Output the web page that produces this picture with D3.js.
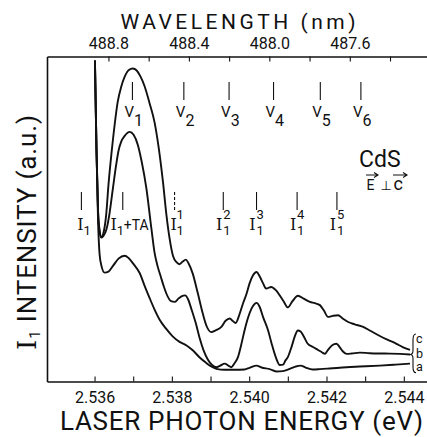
<!DOCTYPE html>
<html>
<head>
<meta charset="utf-8">
<script src="https://cdn.jsdelivr.net/npm/d3@7"></script>
<style>
  body { margin: 0; background: #fff; }
  svg { display: block; }
  text { font-family: Roboto, "DejaVu Sans", sans-serif; fill: #111; }
  .serif { font-family: "DejaVu Serif", serif; }
</style>
</head>
<body>
<svg id="chart" width="427" height="437"></svg>
<script>
//
// Data
//

// spectrum c (top curve)
var energyC = [2.53601, 2.53605, 2.53609, 2.53613, 2.53618, 2.53623, 2.53630, 2.53636, 2.53644, 2.53652,
  2.53660, 2.53669, 2.53678, 2.53688, 2.53699, 2.53709, 2.53719, 2.53729, 2.53742, 2.53755,
  2.53766, 2.53777, 2.53786, 2.53794, 2.53803, 2.53812, 2.53820, 2.53828, 2.53836, 2.53843,
  2.53854, 2.53867, 2.53880, 2.53890, 2.53902, 2.53913, 2.53928, 2.53939, 2.53950, 2.53957,
  2.53965, 2.53975, 2.53984, 2.53993, 2.54001, 2.54010, 2.54019, 2.54027, 2.54036, 2.54044,
  2.54057, 2.54069, 2.54079, 2.54089, 2.54100, 2.54112, 2.54126, 2.54141, 2.54157, 2.54170,
  2.54183, 2.54193, 2.54204, 2.54216, 2.54230, 2.54242, 2.54256, 2.54273, 2.54295, 2.54312,
  2.54338, 2.54359, 2.54381, 2.54397, 2.54416]
var intensityC = [98.8, 71.3, 52.8, 46.6, 44.4, 45.7, 51.2, 60.5, 70.4, 79.0,
  86.1, 90.7, 93.8, 95.8, 96.3, 95.7, 93.8, 91.0, 85.8, 79.9,
  71.9, 61.4, 51.2, 44.1, 38.6, 36.7, 36.1, 36.9, 37.5, 36.4,
  33.2, 27.2, 20.9, 17.0, 15.2, 15.7, 16.8, 18.7, 19.4, 18.7,
  18.0, 20.7, 24.0, 26.9, 30.2, 32.7, 33.7, 32.4, 30.2, 28.6,
  29.1, 28.1, 26.5, 24.7, 22.8, 24.7, 26.4, 25.5, 24.5, 24.1,
  23.5, 21.9, 19.9, 20.2, 20.4, 19.4, 18.3, 17.6, 16.8, 15.7,
  14.0, 12.8, 11.6, 10.6, 9.7]

// spectrum b (middle curve)
var energyB = [2.53601, 2.53605, 2.53609, 2.53613, 2.53618, 2.53623, 2.53631, 2.53639, 2.53647, 2.53656,
  2.53662, 2.53669, 2.53678, 2.53691, 2.53701, 2.53712, 2.53722, 2.53734, 2.53747, 2.53755,
  2.53763, 2.53771, 2.53779, 2.53786, 2.53798, 2.53807, 2.53817, 2.53825, 2.53834, 2.53843,
  2.53850, 2.53862, 2.53872, 2.53882, 2.53893, 2.53904, 2.53915, 2.53924, 2.53937, 2.53946,
  2.53954, 2.53962, 2.53971, 2.53979, 2.53988, 2.53997, 2.54006, 2.54012, 2.54019, 2.54027,
  2.54036, 2.54049, 2.54058, 2.54070, 2.54079, 2.54088, 2.54094, 2.54100, 2.54110, 2.54118,
  2.54126, 2.54133, 2.54141, 2.54151, 2.54165, 2.54178, 2.54188, 2.54196, 2.54203, 2.54214,
  2.54226, 2.54234, 2.54242, 2.54252, 2.54265, 2.54286, 2.54312, 2.54351, 2.54390, 2.54416]
var intensityB = [98.8, 71.3, 52.2, 46.0, 44.3, 44.8, 46.9, 51.9, 59.0, 66.7,
  71.0, 73.8, 75.6, 76.8, 75.9, 72.8, 67.6, 59.5, 47.1, 39.8,
  35.5, 32.4, 29.3, 27.0, 24.7, 24.5, 25.5, 26.2, 26.5, 25.0,
  22.5, 17.9, 13.3, 9.6, 6.8, 5.1, 4.4, 4.8, 5.5, 4.9,
  4.4, 5.6, 7.5, 11.1, 15.7, 19.6, 22.4, 23.6, 24.2, 23.0,
  19.8, 15.7, 11.7, 7.1, 5.1, 5.2, 6.5, 7.5, 10.8, 13.9,
  15.7, 15.4, 13.9, 11.7, 10.6, 9.7, 9.0, 8.5, 9.6, 11.1,
  11.6, 10.6, 9.3, 8.5, 8.6, 8.9, 8.7, 8.6, 8.5, 8.3]

// spectrum a (bottom curve)
var energyA = [2.53601, 2.53605, 2.53609, 2.53613, 2.53618, 2.53626, 2.53636, 2.53649, 2.53662, 2.53678,
  2.53688, 2.53701, 2.53717, 2.53729, 2.53742, 2.53755, 2.53768, 2.53784, 2.53802, 2.53820,
  2.53838, 2.53854, 2.53872, 2.53887, 2.53902, 2.53915, 2.53937, 2.53962, 2.53988, 2.54001,
  2.54019, 2.54032, 2.54053, 2.54070, 2.54087, 2.54105, 2.54120, 2.54133, 2.54146, 2.54164,
  2.54183, 2.54208, 2.54252, 2.54286, 2.54338, 2.54379, 2.54416]
var intensityA = [98.8, 71.3, 49.7, 39.2, 35.5, 33.5, 33.8, 35.8, 37.8, 38.7,
  38.0, 36.1, 33.3, 29.6, 25.8, 22.2, 19.1, 16.4, 13.9, 12.2,
  11.1, 9.6, 7.4, 5.9, 4.6, 3.9, 3.6, 3.6, 3.7, 4.2,
  4.9, 4.3, 3.8, 3.1, 3.2, 3.9, 4.6, 4.9, 4.3, 3.7,
  3.8, 4.0, 4.4, 4.6, 4.9, 5.2, 5.5]

var curveNames = ['c', 'b', 'a']

// axes
var energyDomain = [2.53477, 2.54460]
var intensityDomain = [0, 100]
var energyTicks = [2.536, 2.537, 2.538, 2.539, 2.540, 2.541, 2.542, 2.543, 2.544]
var energyLabels = [2.536, 2.538, 2.540, 2.542, 2.544]
var wavelengthTicks = [488.8, 488.6, 488.4, 488.2, 488.0, 487.8, 487.6, 487.4]
var wavelengthLabels = [488.8, 488.4, 488.0, 487.6]
// eV nm, as used for the wavelength scale
var hc = 1239.77

// line markers
var vEnergies = [2.53698, 2.53831, 2.53948, 2.54063, 2.54184, 2.54289]
var vIndex = ['1', '2', '3', '4', '5', '6']
var iEnergies = [2.53566, 2.53673, 2.53807, 2.53933, 2.54019, 2.54124, 2.54227]
var iSuper = ['', '', '1', '2', '3', '4', '5']
var iSuffix = ['', '+TA', '', '', '', '', '']

//
// Scales
//

var svg = d3.select('#chart')
var x = d3.scaleLinear().domain(energyDomain).range([47, 427])
var y = d3.scaleLinear().domain(intensityDomain).range([381.5, 56.5])
var lam = d3.scaleLinear()
  .domain(energyDomain.map(function (e) { return hc / e }))
  .range(x.range())

var fmtE = d3.format('.3f')
var fmtL = d3.format('.1f')

//
// Axes
//

var bottom = svg.append('g')
  .attr('transform', 'translate(0,' + y.range()[0] + ')')
  .call(d3.axisBottom(x)
    .tickValues(energyTicks)
    .tickSizeInner(-5).tickSizeOuter(0).tickPadding(10)
    .tickFormat(function (d) { return energyLabels.indexOf(d) >= 0 ? fmtE(d) : '' }))

var top = svg.append('g')
  .attr('transform', 'translate(0,' + y.range()[1] + ')')
  .call(d3.axisTop(lam)
    .tickValues(wavelengthTicks)
    .tickSizeInner(-5).tickSizeOuter(0).tickPadding(8)
    .tickFormat(function (d) { return wavelengthLabels.indexOf(d) >= 0 ? fmtL(d) : '' }))

var left = svg.append('g')
  .attr('transform', 'translate(' + x.range()[0] + ',0)')
  .call(d3.axisLeft(y).tickValues([]).tickSizeOuter(0))

svg.selectAll('.domain').attr('stroke', '#111').attr('stroke-width', 1.6)
svg.selectAll('.tick line').attr('stroke', '#111').attr('stroke-width', 1.1)
svg.selectAll('.tick text')
  .attr('font-family', 'Roboto, sans-serif')
  .attr('font-size', 16)
  .attr('fill', '#111')

// titles
svg.append('text')
  .attr('x', 120.5).attr('y', 28.5)
  .attr('font-size', 21)
  .attr('textLength', 235).attr('lengthAdjust', 'spacing')
  .text('WAVELENGTH (nm)')

svg.append('text')
  .attr('x', 60).attr('y', 430)
  .attr('font-size', 26)
  .attr('textLength', 363).attr('lengthAdjust', 'spacing')
  .text('LASER PHOTON ENERGY (eV)')

var ytitle = svg.append('text')
  .attr('transform', 'translate(36,232.5) rotate(-90)')
  .attr('text-anchor', 'middle')
  .attr('font-size', 26)
  .attr('textLength', 235).attr('lengthAdjust', 'spacing')
ytitle.append('tspan').attr('class', 'serif').text('I')
ytitle.append('tspan').attr('font-size', 15).attr('dy', 4).text('1')
ytitle.append('tspan').attr('dy', -4).text(' INTENSITY (a.u.)')

//
// Curves
//

var line = d3.line()
  .x(function (d) { return x(d[0]) })
  .y(function (d) { return y(d[1]) })
  .curve(d3.curveMonotoneX)

var series = [
  d3.zip(energyC, intensityC),
  d3.zip(energyB, intensityB),
  d3.zip(energyA, intensityA)
]

svg.append('g').selectAll('path')
  .data(series)
  .enter().append('path')
  .attr('d', line)
  .attr('fill', 'none')
  .attr('stroke', '#111')
  .attr('stroke-width', 1.9)
  .attr('stroke-linejoin', 'round')

// brace and curve names at the right end
var ends = series.map(function (s) { return s[s.length - 1] })
var bx = x(ends[1][0]) + 1
var yc = y(ends[0][1]), yb = y(ends[1][1]), ya = y(ends[2][1])
svg.append('path')
  .attr('d', 'M' + (bx + 5) + ',' + (yc - 16) +
    'Q' + (bx + 2) + ',' + (yc - 16) + ' ' + (bx + 2) + ',' + (yc - 10) +
    'L' + (bx + 2) + ',' + (yb - 4) +
    'Q' + (bx + 2) + ',' + yb + ' ' + (bx - 1) + ',' + yb +
    'Q' + (bx + 2) + ',' + yb + ' ' + (bx + 2) + ',' + (yb + 4) +
    'L' + (bx + 2) + ',' + (ya + 3) +
    'Q' + (bx + 2) + ',' + (ya + 9) + ' ' + (bx + 5) + ',' + (ya + 9))
  .attr('fill', 'none').attr('stroke', '#111').attr('stroke-width', 1.1)

svg.append('g').selectAll('text')
  .data(curveNames)
  .enter().append('text')
  .attr('x', bx + 5)
  .attr('y', function (d, i) { return [yc - 7, yb + 3, ya + 7.5][i] })
  .attr('font-size', 12.5)
  .text(function (d) { return d })

//
// Line markers
//

var vg = svg.append('g').selectAll('g')
  .data(vEnergies)
  .enter().append('g')
vg.append('line')
  .attr('x1', function (d) { return x(d) }).attr('x2', function (d) { return x(d) })
  .attr('y1', 82).attr('y2', 100)
  .attr('stroke', '#111').attr('stroke-width', 1.1)
var vt = vg.append('text')
  .attr('x', function (d) { return x(d) - 8 })
  .attr('y', 117)
vt.append('tspan').attr('font-size', 15).text('V')
vt.append('tspan').attr('font-size', 16).attr('dy', 9)
  .text(function (d, i) { return vIndex[i] })

var ig = svg.append('g').selectAll('g')
  .data(iEnergies)
  .enter().append('g')
ig.append('line')
  .attr('x1', function (d) { return x(d) }).attr('x2', function (d) { return x(d) })
  .attr('y1', 192).attr('y2', 210)
  .attr('stroke', '#111').attr('stroke-width', 1.1)
  .attr('stroke-dasharray', function (d, i) { return i === 2 ? '3,2' : null })
ig.append('text')
  .attr('class', 'serif')
  .attr('x', function (d, i) { return x(d) - (i < 3 ? 1 : 4) - (i === 1 ? 8 : 0) })
  .attr('y', 230)
  .attr('text-anchor', 'middle')
  .attr('font-size', 16)
  .text('I')
ig.append('text')
  .attr('x', function (d, i) { return x(d) + (i < 3 ? 2 : 0) - (i === 1 ? 8 : 0) })
  .attr('y', 235)
  .attr('font-size', 13)
  .text('1')
ig.append('text')
  .attr('x', function (d, i) { return x(d) + (i < 3 ? 2 : 0) })
  .attr('y', 219)
  .attr('font-size', 13)
  .text(function (d, i) { return iSuper[i] })
ig.append('text')
  .attr('x', function (d) { return x(d) + 1 })
  .attr('y', 230)
  .attr('font-size', 14)
  .text(function (d, i) { return iSuffix[i] })

//
// Sample label
//

svg.append('text')
  .attr('x', 359).attr('y', 166.5)
  .attr('font-size', 23)
  .text('CdS')
svg.append('text').attr('x', 366.5).attr('y', 190).attr('font-size', 14).text('E')
svg.append('text').attr('x', 380.5).attr('y', 190).attr('font-size', 13)
  .attr('font-family', '"DejaVu Sans", sans-serif').text('\u22a5')
svg.append('text').attr('x', 393.5).attr('y', 190).attr('font-size', 18).text('c')

function arrow(x0, x1, yy) {
  svg.append('path')
    .attr('d', 'M' + x0 + ',' + yy + 'L' + x1 + ',' + yy +
      'M' + (x1 - 4) + ',' + (yy - 2.5) + 'L' + x1 + ',' + yy + 'L' + (x1 - 4) + ',' + (yy + 2.5))
    .attr('fill', 'none').attr('stroke', '#111').attr('stroke-width', 1.1)
}
arrow(366, 378, 175)
arrow(393, 407, 175)
</script>
</body>
</html>
